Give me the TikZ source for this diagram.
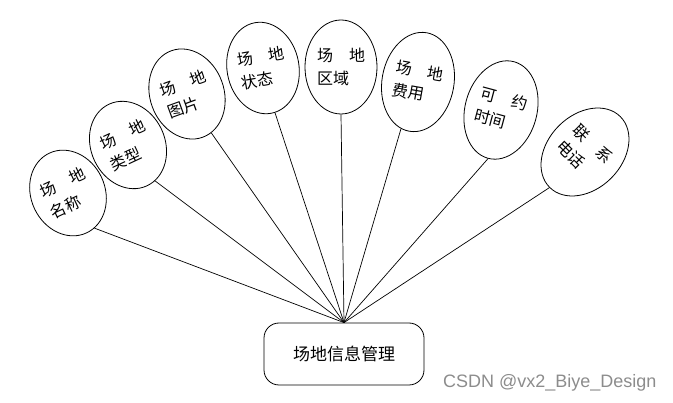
\documentclass[tikz,border=0pt]{standalone}
\usepackage{fontspec}
\newfontfamily\cjk{Noto Sans CJK SC}
\newfontfamily\wmfont{Liberation Sans}
\usetikzlibrary{shapes.geometric}
\begin{document}
\begin{tikzpicture}[x=1pt,y=-1pt,
  attr/.style={draw, ellipse, line width=0.8pt, inner sep=0pt,
    minimum width=74pt, minimum height=90pt,
    font=\cjk\fontsize{16}{23}\selectfont, align=left},
  link/.style={line width=0.7pt},
  ent/.style={draw, rounded corners=15pt, minimum width=160pt, minimum height=62pt,
    line width=0.8pt, font=\cjk\fontsize{17}{20}\selectfont},
  wm/.style={font=\wmfont\fontsize{18}{20}\selectfont, text=black!45, inner sep=0pt}]
\useasboundingbox (0,0) rectangle (673,403);
\node[ent] (root) at (344,354) {场地信息管理};
\node[attr, minimum width=74pt, minimum height=88pt, rotate=25] (e1) at (68,193) {场\hspace{1em}地\\名称};
\node[attr, minimum width=74pt, minimum height=90pt, rotate=25] (e2) at (128,145) {场\hspace{1em}地\\类型};
\node[attr, minimum width=74pt, minimum height=92pt, rotate=20] (e3) at (187,94) {场\hspace{1em}地\\图片};
\node[attr, minimum width=72pt, minimum height=92pt, rotate=10] (e4) at (263,68) {场\hspace{1em}地\\状态};
\node[attr, minimum width=72pt, minimum height=94pt] (e5) at (341,67) {场\hspace{1em}地\\区域};
\node[attr, minimum width=72pt, minimum height=100pt, rotate=-10] (e6) at (418,82) {场\hspace{1em}地\\费用};
\node[attr, minimum width=72pt, minimum height=100pt, rotate=-15] (e7) at (501,110) {可\hspace{1em}约\\时间};
\node[attr, minimum width=74pt, minimum height=100pt, rotate=-45] (e8) at (585,152) {联\hspace{1em}系\\电话};
\draw[link] (e1.-78) -- (root.north);
\draw[link] (e2.-78) -- (root.north);
\draw[link] (e3.-78) -- (root.north);
\draw[link] (e4.-85) -- (root.north);
\draw[link] (e5.south) -- (root.north);
\draw[link] (e6.-100) -- (root.north);
\draw[link] (e7.south) -- (root.north);
\draw[link] (e8.south) -- (root.north);
\node[wm, anchor=base west] (w) at (443,388) {CSDN @vx2\_Biye\_Design};
\end{tikzpicture}
\end{document}
